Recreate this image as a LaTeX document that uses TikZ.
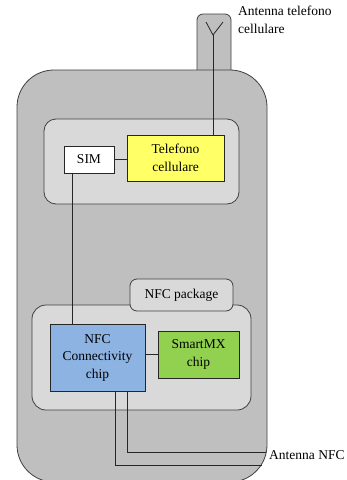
\documentclass[tikz,border=0pt]{standalone}
\usepackage{fontspec}
\setmainfont{Liberation Serif}
\usetikzlibrary{calc}
\definecolor{bodygray}{HTML}{BFBFBF}
\definecolor{innergray}{HTML}{D9D9D9}
\definecolor{edgegray}{HTML}{404040}
\definecolor{chipyellow}{HTML}{FFFF66}
\definecolor{chipblue}{HTML}{8DB3E2}
\definecolor{chipgreen}{HTML}{92D050}
\tikzset{
  txt/.style={font=\fontsize{13.5}{17.5}\selectfont, align=center, inner sep=0pt},
  chipbox/.style={draw=black!85, line width=0.8pt, txt},
  wire/.style={draw=black!85, line width=0.8pt},
  shell/.style={draw=edgegray, line width=0.8pt},
}
\begin{document}
\begin{tikzpicture}[x=1pt,y=-1pt]
\useasboundingbox (0,0) rectangle (347,480);
\clip (0,0) rectangle (347,480);
% antenna tab
\path[shell, fill=bodygray, rounded corners=6] (197,72) -- (197,14) -- (231,14) -- (231,72);
% phone body
\path[shell, fill=bodygray, rounded corners=37] (17,70) rectangle (267,482);
% upper module
\path[shell, fill=innergray, rounded corners=12] (44,119) rectangle (239,204);
% lower NFC module
\path[shell, fill=innergray, rounded corners=14] (32,305) rectangle (251,410);
\node[shell, fill=innergray, rounded corners=7, txt, minimum width=103pt, minimum height=32pt] (pkg) at (181.5,295) {NFC package};
% chips
\node[chipbox, fill=white, minimum width=50pt, minimum height=27pt] (sim) at (89,159.5) {SIM};
\node[chipbox, fill=chipyellow, minimum width=97pt, minimum height=46pt] (tel) at (175.5,158) {Telefono\\cellulare};
\node[chipbox, fill=chipblue, minimum width=95pt, minimum height=67pt] (nfc) at (97.5,357.5) {NFC\\Connectivity\\chip};
\node[chipbox, fill=chipgreen, minimum width=81pt, minimum height=47pt] (smx) at (198.5,354.5) {SmartMX\\chip};
% antenna
\coordinate (ant) at (213,35);
\coordinate (antl) at (206,22);
\coordinate (antr) at (223,22);
\draw[wire] (antl) -- (ant) -- (antr);
\draw[wire] (tel.north -| ant) -- (ant);
\node[txt, align=left, anchor=north west] (anttxt) at (238,6) {Antenna telefono\\cellulare};
% connections
\draw[wire] (sim.east) -- (sim.east -| tel.west);
\draw[wire] ([xshift=9pt]sim.south west) -- ([xshift=9pt]sim.south west |- nfc.north);
\draw[wire] (smx.west -| nfc.east) -- (smx.west);
% NFC antenna
\node[txt, anchor=west] (nfcant) at (269,455) {Antenna NFC};
\coordinate (endA) at (266,452);
\coordinate (endB) at (262,465);
\draw[wire] ([xshift=-18pt]nfc.south east) |- (endA);
\draw[wire] ([xshift=-30pt]nfc.south east) |- (endB);
\end{tikzpicture}
\end{document}
